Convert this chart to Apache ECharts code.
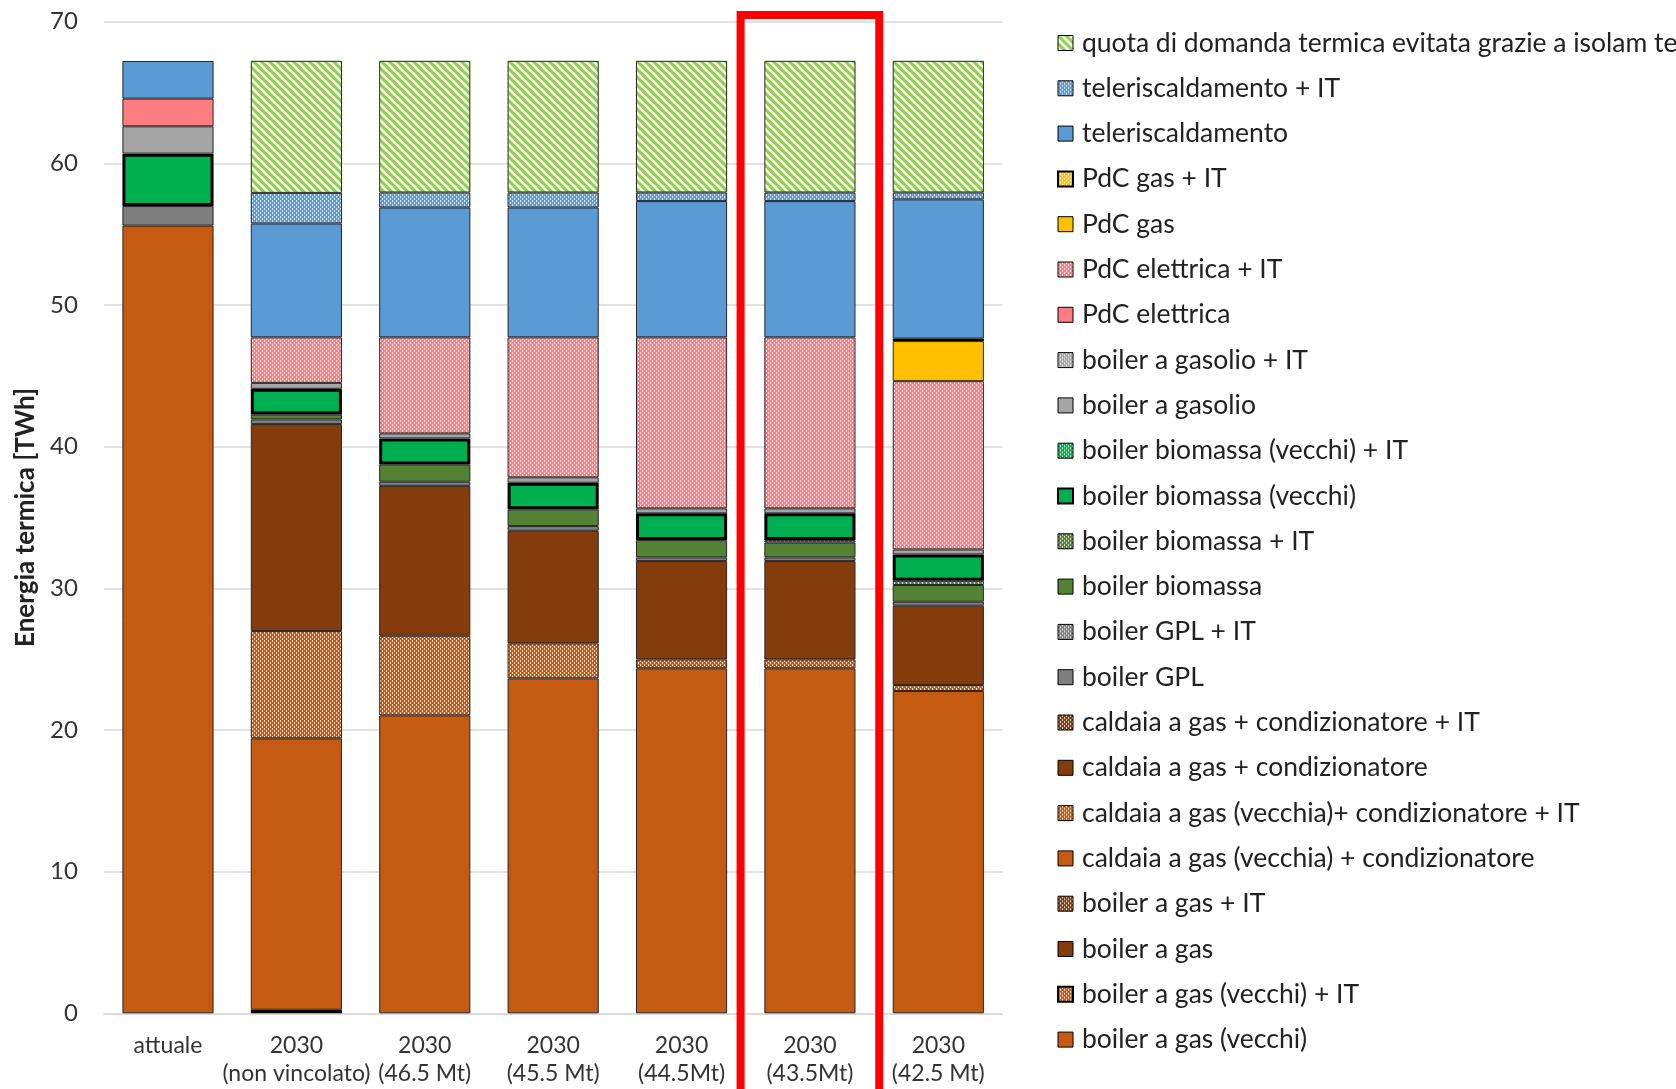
<!DOCTYPE html>
<html>
<head>
<meta charset="utf-8">
<script src="https://cdn.jsdelivr.net/npm/echarts@6/dist/echarts.min.js"></script>
<style>
html,body{margin:0;padding:0;background:#fff;}
#chart{width:1676px;height:1089px;}
</style>
</head>
<body>
<div id="chart"></div>
<script>
// ---------- DATA ----------
const CATEGORIES = ['attuale', '2030\n(non vincolato)', '2030\n(46.5 Mt)', '2030\n(45.5 Mt)', '2030\n(44.5Mt)', '2030\n(43.5Mt)', '2030\n(42.5 Mt)'];
const Y_TICKS = [0, 10, 20, 30, 40, 50, 60, 70];

const SERIES_NAMES = [
  'boiler a gas (vecchi)',
  'boiler a gas (vecchi) + IT',
  'boiler a gas',
  'boiler a gas + IT',
  'caldaia a gas (vecchia) + condizionatore',
  'caldaia a gas (vecchia)+ condizionatore + IT',
  'caldaia a gas + condizionatore',
  'caldaia a gas + condizionatore + IT',
  'boiler GPL',
  'boiler GPL + IT',
  'boiler biomassa',
  'boiler biomassa + IT',
  'boiler biomassa (vecchi)',
  'boiler biomassa (vecchi) + IT',
  'boiler a gasolio',
  'boiler a gasolio + IT',
  'PdC elettrica',
  'PdC elettrica + IT',
  'PdC gas',
  'PdC gas + IT',
  'teleriscaldamento',
  'teleriscaldamento + IT',
  'quota di domanda termica evitata grazie a isolam termico'
];

const boilerGasVecchi        = [55.6, null, null, null, null, null, null];
const boilerGasVecchiIT      = [null, 0.25, null, null, null, null, null];
const boilerGas              = [null, null, null, null, null, null, null];
const boilerGasIT            = [null, null, null, null, null, null, null];
const caldaiaVecchiaCond     = [null, 19.16, 21.03, 23.64, 24.35, 24.35, 22.75];
const caldaiaVecchiaCondIT   = [null, 7.57, 5.62, 2.47, 0.63, 0.63, 0.42];
const caldaiaCond            = [null, 14.61, 10.58, 7.95, 6.94, 6.94, 5.60];
const caldaiaCondIT          = [null, null, null, null, null, null, null];
const boilerGPL              = [1.38, 0.33, 0.29, 0.33, 0.26, 0.26, 0.28];
const boilerGPLIT            = [null, null, null, null, null, null, null];
const boilerBiomassa         = [null, 0.35, 1.22, 1.18, 1.22, 1.05, 1.18];
const boilerBiomassaIT       = [null, null, null, null, null, 0.17, 0.30];
const boilerBiomassaVecchi   = [3.70, 1.81, 1.84, 1.88, 1.89, 1.89, 1.86];
const boilerBiomassaVecchiIT = [null, null, null, null, null, null, null];
const boilerGasolio          = [1.93, 0.42, 0.35, 0.38, 0.35, 0.35, 0.35];
const boilerGasolioIT        = [null, null, null, null, null, null, null];
const pdcElettrica           = [1.95, null, null, null, null, null, null];
const pdcElettricaIT         = [null, 3.21, 6.78, 9.88, 12.07, 12.07, 11.88];
const pdcGas                 = [null, null, null, null, null, null, 2.83];
const pdcGasIT               = [null, null, null, null, null, null, 0.18];
const teleriscaldamento      = [2.66, 8.04, 9.17, 9.17, 9.62, 9.62, 9.82];
const teleriscaldamentoIT    = [null, 2.16, 1.06, 1.06, 0.61, 0.61, 0.49];
const quotaEvitata           = [null, 9.32, 9.29, 9.29, 9.29, 9.29, 9.29];

const SERIES_DATA = [
  boilerGasVecchi, boilerGasVecchiIT, boilerGas, boilerGasIT,
  caldaiaVecchiaCond, caldaiaVecchiaCondIT, caldaiaCond, caldaiaCondIT,
  boilerGPL, boilerGPLIT, boilerBiomassa, boilerBiomassaIT,
  boilerBiomassaVecchi, boilerBiomassaVecchiIT, boilerGasolio, boilerGasolioIT,
  pdcElettrica, pdcElettricaIT, pdcGas, pdcGasIT,
  teleriscaldamento, teleriscaldamentoIT, quotaEvitata
];

// ---------- STYLES ----------
function dotPattern(base) {
  const c = document.createElement('canvas');
  c.width = 4; c.height = 4;
  const g = c.getContext('2d');
  g.fillStyle = base; g.fillRect(0, 0, 4, 4);
  g.fillStyle = 'rgba(255,255,255,0.8)';
  g.fillRect(0, 0, 1, 2);
  g.fillRect(2, 2, 1, 2);
  return { image: c, repeat: 'repeat' };
}
function diagPattern(base) {
  const c = document.createElement('canvas');
  c.width = 8; c.height = 8;
  const g = c.getContext('2d');
  g.fillStyle = '#ffffff'; g.fillRect(0, 0, 8, 8);
  g.strokeStyle = base; g.lineWidth = 3.2;
  g.beginPath();
  g.moveTo(-2, -2); g.lineTo(10, 10);
  g.moveTo(-2, 6); g.lineTo(2, 10);
  g.moveTo(6, -2); g.lineTo(10, 2);
  g.stroke();
  return { image: c, repeat: 'repeat' };
}

const ORANGE = '#C55A11', BROWN = '#843C0C', DGRAY = '#7F7F7F', OLIVE = '#548235',
      GREEN = '#00B050', LGRAY = '#A5A5A5', PINK = '#FF7C80', YELLOW = '#FFC000',
      BLUE = '#5B9BD5', LIME = '#92D050';

const STYLES = [
  { c: ORANGE }, { c: ORANGE, dot: true, bw: 2.5 },
  { c: BROWN }, { c: BROWN, dot: true },
  { c: ORANGE }, { c: ORANGE, dot: true },
  { c: BROWN }, { c: BROWN, dot: true },
  { c: DGRAY }, { c: DGRAY, dot: true },
  { c: OLIVE }, { c: OLIVE, dot: true },
  { c: GREEN, bw: 3 }, { c: GREEN, dot: true },
  { c: LGRAY }, { c: LGRAY, dot: true },
  { c: PINK }, { c: PINK, dot: true },
  { c: YELLOW }, { c: YELLOW, dot: true, bw: 2.5 },
  { c: BLUE }, { c: BLUE, dot: true },
  { c: LIME, diag: true }
];

const FONT = 'Lato, "Open Sans", sans-serif';

const series = SERIES_NAMES.map((name, i) => {
  const st = STYLES[i];
  const color = st.diag ? diagPattern(st.c) : (st.dot ? dotPattern(st.c) : st.c);
  return {
    name: name,
    type: 'bar',
    stack: 'total',
    barCategoryGap: '29%',
    data: SERIES_DATA[i],
    itemStyle: { color: color, borderColor: st.bw ? '#000' : '#262626', borderWidth: st.bw || 1 },
    emphasis: { disabled: true }
  };
});

const legendData = SERIES_NAMES.slice().reverse().map((name) => {
  const st = STYLES[SERIES_NAMES.indexOf(name)];
  return { name: name, itemStyle: { borderColor: '#000', borderWidth: st.bw ? 2 : 1 } };
});

const chart = echarts.init(document.getElementById('chart'), null, { renderer: 'canvas' });
chart.setOption({
  animation: false,
  backgroundColor: '#ffffff',
  grid: { left: 103.8, right: 673.5, top: 21.6, bottom: 75.7, containLabel: false },
  legend: {
    data: legendData,
    orient: 'vertical',
    left: 1052,
    top: 23,
    itemWidth: 15,
    itemHeight: 15,
    itemGap: 15.3,
    icon: 'rect',
    selectedMode: false,
    textStyle: { fontFamily: FONT, fontSize: 26.5, color: '#222', lineHeight: 30, padding: [0, 0, 0, 4] }
  },
  xAxis: {
    type: 'category',
    data: CATEGORIES,
    axisLine: { show: true, lineStyle: { color: '#d9d9d9', width: 1.5 } },
    axisTick: { show: false },
    axisLabel: { fontFamily: FONT, fontSize: 23, color: '#333', lineHeight: 28, margin: 18, interval: 0 }
  },
  yAxis: {
    type: 'value',
    min: Y_TICKS[0],
    max: Y_TICKS[Y_TICKS.length - 1],
    interval: 10,
    name: 'Energia termica [TWh]',
    nameLocation: 'middle',
    nameGap: 60,
    nameTextStyle: { fontFamily: FONT, fontSize: 26, fontWeight: 'bold', color: '#222' },
    axisLine: { show: false },
    axisTick: { show: false },
    splitLine: { lineStyle: { color: '#d9d9d9', width: 1.5 } },
    axisLabel: { fontFamily: FONT, fontSize: 24, color: '#333', margin: 26 }
  },
  series: series
});

// red highlight frame around the "43.5Mt" scenario
const idx = 5;
const cx = chart.convertToPixel({ xAxisIndex: 0 }, CATEGORIES[idx]);
const bw = chart.convertToPixel({ xAxisIndex: 0 }, CATEGORIES[idx + 1]) - cx;
const yTop = chart.convertToPixel({ yAxisIndex: 0 }, Y_TICKS[Y_TICKS.length - 1]) - 6.6;
chart.setOption({
  graphic: [{
    type: 'rect',
    z: 100,
    shape: { x: cx - 0.54 * bw, y: yTop, width: 1.08 * bw, height: 1200 },
    style: { fill: 'none', stroke: '#FF0000', lineWidth: 8 }
  }]
});
</script>
</body>
</html>
